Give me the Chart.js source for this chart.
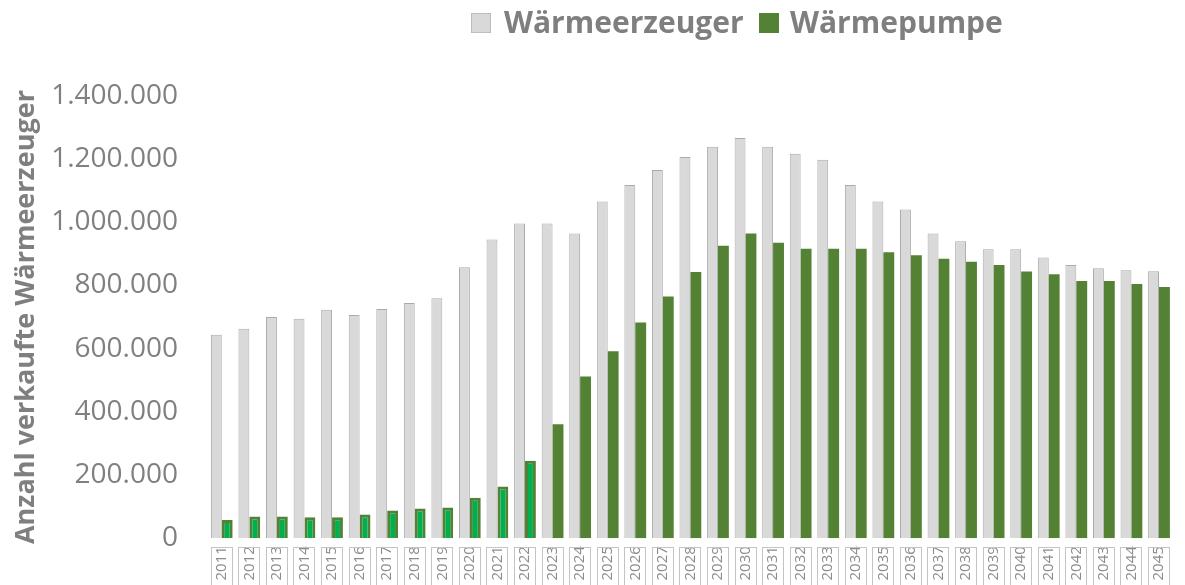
<!DOCTYPE html>
<html>
<head>
<meta charset="utf-8">
<script src="https://cdn.jsdelivr.net/npm/chart.js@4"></script>
<style>
  html, body { margin: 0; padding: 0; background: #fff; }
  #wrap { width: 1185px; height: 585px; }
</style>
</head>
<body>
<div id="wrap"><canvas id="myChart"></canvas></div>
<script>
// years on the x axis
const years = ['2011', '2012', '2013', '2014', '2015', '2016', '2017', '2018', '2019', '2020',
  '2021', '2022', '2023', '2024', '2025', '2026', '2027', '2028', '2029', '2030',
  '2031', '2032', '2033', '2034', '2035', '2036', '2037', '2038', '2039', '2040',
  '2041', '2042', '2043', '2044', '2045'];

// sold heat generators, all types
const waermeerzeuger = [644000, 663000, 700000, 695000, 723000, 707000, 726000, 745000, 760000, 858000,
  946000, 996000, 996000, 965000, 1066000, 1118000, 1166000, 1207000, 1239000, 1267000,
  1239000, 1217000, 1198000, 1118000, 1066000, 1041000, 965000, 940000, 915000, 915000,
  889000, 865000, 855000, 848000, 845000];

// of which heat pumps
const waermepumpe = [58000, 69000, 69000, 66000, 66000, 75000, 88000, 94000, 97000, 128000,
  164000, 245000, 361000, 512000, 592000, 683000, 765000, 843000, 926000, 965000,
  935000, 916000, 916000, 916000, 905000, 896000, 885000, 875000, 865000, 844000,
  836000, 814000, 814000, 805000, 795000];

// y axis ticks
const yTicks = [0, 200000, 400000, 600000, 800000, 1000000, 1200000, 1400000];

const seriesNames = ['Wärmeerzeuger', 'Wärmepumpe'];
const yTitle = 'Anzahl verkaufte Wärmeerzeuger';

const grey = '#7f7f7f';
const FONT = "'Open Sans', sans-serif";

// past years (up to 2022) have the bright green fill
const pumpFill = years.map((y) => (+y <= 2022 ? '#00b050' : '#548235'));
const pumpBorder = years.map((y) => (+y <= 2022 ? '#548235' : '#6b8f4e'));
const pumpBorderW = years.map((y) => (+y <= 2022 ? 3 : 0));

const fmt = (v) => v.toString().replace(/\B(?=(\d{3})+(?!\d))/g, '.');

// boxes round the year labels + legend on top
const extras = {
  id: 'extras',
  afterDraw(chart) {
    const { ctx, scales } = chart;
    const x = scales.x;
    ctx.save();
    ctx.strokeStyle = '#c4c4c4';
    ctx.lineWidth = 1;
    years.forEach((y, i) => {
      const px = Math.round(x.getPixelForTick(i));
      ctx.strokeRect(px - 10.5, 547.5, 21, 45);
    });

    // legend
    ctx.font = `bold 30px ${FONT}`;
    ctx.textBaseline = 'middle';
    const colors = ['#d9d9d9', '#548235'];
    const boxX = [471, 759];
    seriesNames.forEach((name, i) => {
      const bx = boxX[i];
      ctx.fillStyle = colors[i];
      ctx.fillRect(bx, 13, 20, 20);
      if (i === 0) {
        ctx.strokeStyle = '#bdbdbd';
        ctx.strokeRect(bx + 0.5, 13.5, 19, 19);
      }
      ctx.fillStyle = grey;
      ctx.fillText(name, bx + (i === 0 ? 33 : 31), 24);
    });
    ctx.restore();
  },
};

const ctx = document.getElementById('myChart');
Chart.defaults.font.family = FONT;
Chart.defaults.color = grey;

let chart = new Chart(ctx, {
  type: 'bar',
  data: {
    labels: years,
    datasets: [
      {
        label: seriesNames[0],
        data: waermeerzeuger,
        backgroundColor: '#d9d9d9',
        borderColor: '#ababab',
        borderWidth: { top: 1, left: 1, right: 1, bottom: 0 },
        barPercentage: 1,
        categoryPercentage: 0.79,
      },
      {
        label: seriesNames[1],
        data: waermepumpe,
        backgroundColor: pumpFill,
        borderColor: pumpBorder,
        borderWidth: pumpBorderW,
        barPercentage: 1,
        categoryPercentage: 0.79,
      },
    ],
  },
  options: {
    responsive: true,
    maintainAspectRatio: false,
    animation: false,
    layout: { padding: { top: 96, right: 0, bottom: 0, left: 0 } },
    plugins: {
      legend: { display: false },
      tooltip: { enabled: false },
    },
    scales: {
      x: {
        grid: { display: false, drawTicks: false },
        border: { display: false },
        ticks: {
          autoSkip: false,
          minRotation: 90,
          maxRotation: 90,
          padding: 8,
          color: '#8c8c8c',
          font: { size: 15 },
        },
        afterFit: (s) => { s.height = 44; },
      },
      y: {
        min: 0,
        max: 1400000,
        grid: { display: false, drawTicks: false },
        border: { display: false },
        afterBuildTicks: (s) => { s.ticks = yTicks.map((v) => ({ value: v })); },
        ticks: {
          padding: 30,
          color: '#808080',
          font: { size: 28 },
          callback: (v) => fmt(v),
        },
        title: {
          display: true,
          text: yTitle,
          color: grey,
          font: { size: 27, weight: 'bold' },
          padding: { top: 10, bottom: 0 },
        },
        afterFit: (s) => { s.width = 208; },
      },
    },
  },
  plugins: [extras],
});
</script>
</body>
</html>
